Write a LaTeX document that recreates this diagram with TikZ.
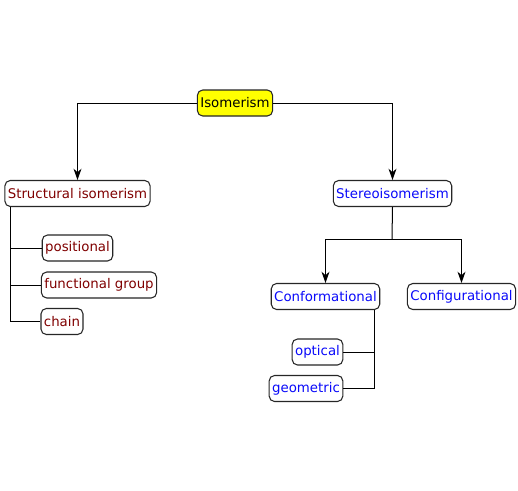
\documentclass[tikz,border=0pt]{standalone}
\usepackage{fontspec}
\setmainfont{DejaVu Sans}
\definecolor{StructRed}{RGB}{128,0,0}
\definecolor{StereoBlue}{RGB}{10,10,250}
\definecolor{TopYellow}{RGB}{255,255,0}
\usetikzlibrary{arrows.meta, positioning}

\begin{document}
\begin{tikzpicture}[x=0.75pt, y=-0.75pt, font=\fontsize{10}{12}\selectfont,
	caja/.style={rectangle, draw=black!85, line width=0.8pt, rounded corners=4pt, fill=white, minimum height=19.5pt, inner xsep=2.2pt, inner ysep=0pt},
	flecha/.style={-{Stealth[length=8.5pt, width=6pt]}, line width=0.75pt},
	linea/.style={line width=0.75pt}]
	\useasboundingbox (0,0) rectangle (518,490);
	% top
	\node[caja, fill=TopYellow] (iso) at (235,103) {Isomerism};
	\node[caja, text=StructRed] (struc) at (77.5,193.5) {Structural isomerism};
	\node[caja, text=StereoBlue] (stereo) at (392.5,193.5) {Stereoisomerism};
	\draw[flecha] (iso.west) -| (struc.north);
	\draw[flecha] (iso.east) -| (stereo.north);
	% structural branch
	\node[caja, text=StructRed] (pos) at (77.5,248) {positional};
	\node[caja, text=StructRed] (fun) at (99,285) {functional group};
	\node[caja, text=StructRed] (chain) at (62,321.5) {chain};
	\coordinate (sl) at (10,207);
	\draw[linea] (sl) |- (chain.west);
	\draw[linea] (pos.west) -- (pos.west -| sl);
	\draw[linea] (fun.west) -- (fun.west -| sl);
	% stereo branch
	\node[caja, text=StereoBlue] (conf) at (325.5,296.5) {Conformational};
	\node[caja, text=StereoBlue] (config) at (461.5,296.5) {Configurational};
	\coordinate (sj) at (392,239);
	\draw[linea] (stereo.south) -- (sj);
	\draw[flecha] (sj) -| (conf.north);
	\draw[flecha] (sj) -| (config.north);
	\node[caja, text=StereoBlue] (opt) at (317.5,352) {optical};
	\node[caja, text=StereoBlue] (geo) at (306,388.5) {geometric};
	\coordinate (cr) at (374,310);
	\draw[linea] (cr) |- (geo.east);
	\draw[linea] (opt.east) -- (opt.east -| cr);
\end{tikzpicture}
\end{document}
